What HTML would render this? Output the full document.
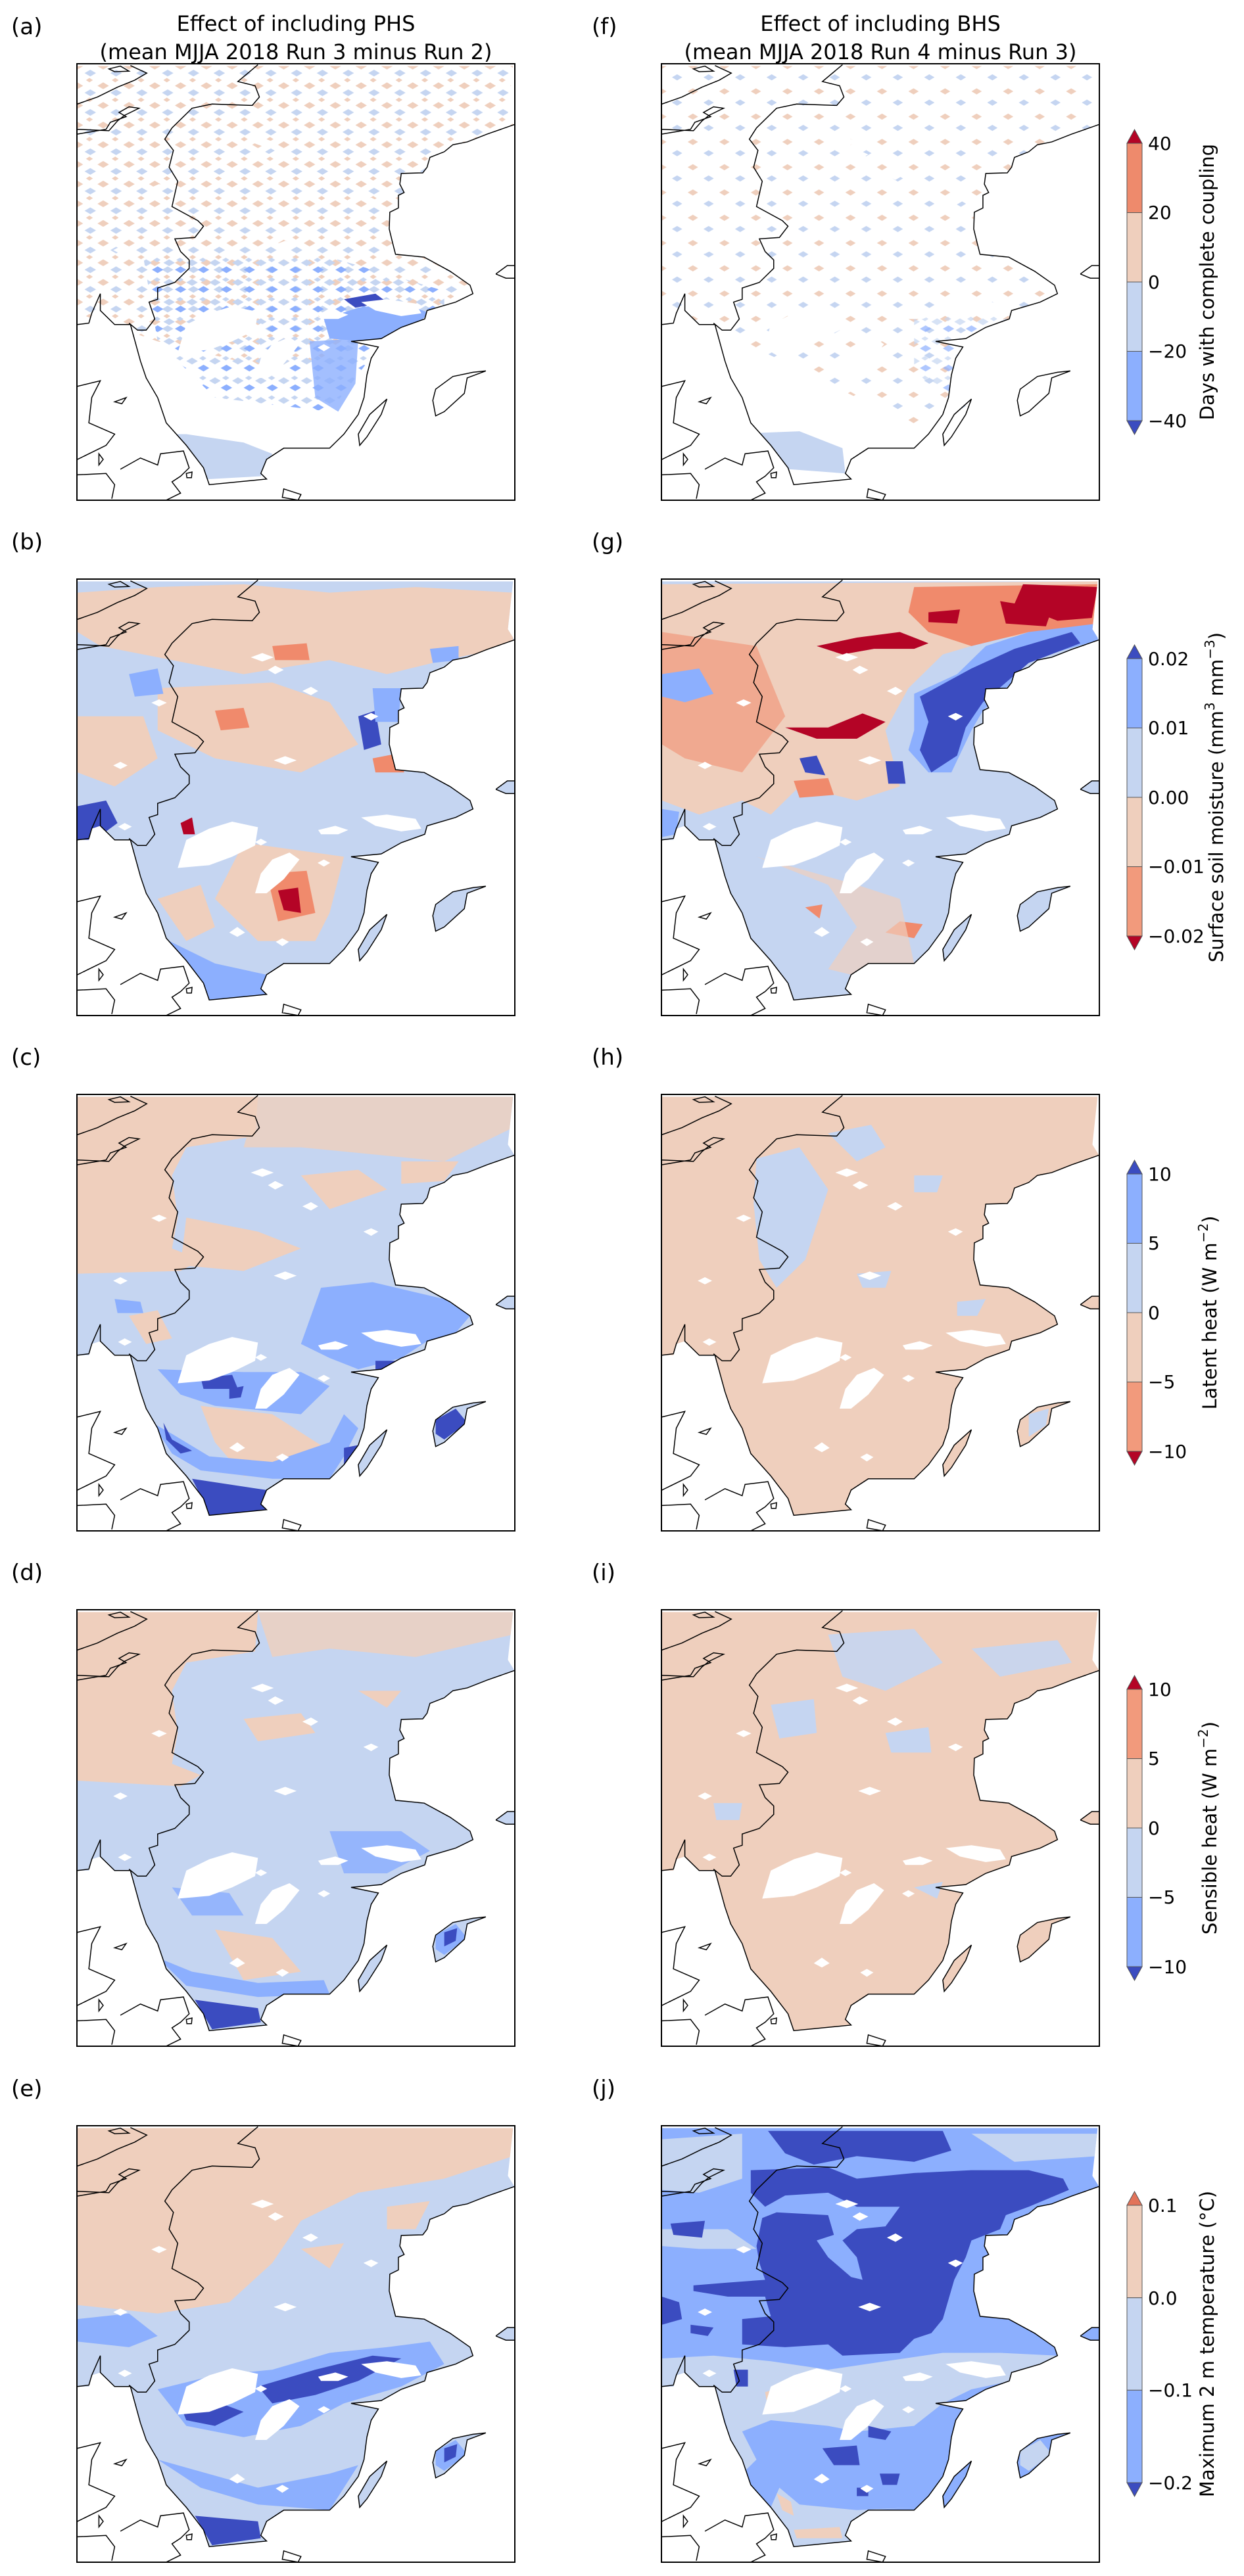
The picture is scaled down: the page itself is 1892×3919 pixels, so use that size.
<!DOCTYPE html>
<html><head><meta charset="utf-8"><style>
html,body{margin:0;padding:0;background:#fff}
svg{display:block}
text{font-family:"DejaVu Sans","Liberation Sans",sans-serif;fill:#000}
</style></head><body>
<svg width="1892" height="3919" viewBox="0 0 1892 3919" xmlns="http://www.w3.org/2000/svg">
<defs>
<clipPath id="land" clipPathUnits="userSpaceOnUse">
<path d="M20,20 L1540,20 L1522,190 L1545,228 L1450,262 L1380,290 L1330,300 L1300,325 L1250,345 L1240,380 L1225,400 L1150,402 L1145,440 L1160,470 L1140,480 L1140,525 L1110,540 L1108,600 L1120,650 L1130,690 L1230,700 L1320,750 L1390,800 L1400,830 L1340,860 L1240,890 L1232,920 L1150,950 L1080,990 L975,1000 L1070,1020 L1045,1060 L1030,1120 L1020,1200 L1000,1260 L950,1330 L900,1380 L740,1380 L680,1420 L660,1470 L680,1490 L480,1510 L460,1450 L400,1370 L330,1290 L300,1200 L260,1130 L240,1070 L205,940 L150,940 L100,890 L70,900 L60,940 L20,940 Z M1270,1170 L1330,1125 L1400,1110 L1445,1105 L1380,1130 L1370,1185 L1300,1250 L1270,1265 L1260,1210 Z M1005,1370 L1000,1330 L1040,1260 L1100,1205 L1080,1260 L1030,1340 Z M1480,760 L1500,745 L1520,730 L1545,730 L1545,775 L1515,775 Z"/>
</clipPath>
<g id="lakes" fill="#fff">
<path d="M370,1040 L400,940 L480,900 L560,875 L650,895 L640,960 L560,1000 L480,1030 Z"/>
<path d="M640,1130 L660,1060 L700,1010 L760,985 L795,1010 L740,1080 L680,1130 Z"/>
<path d="M1010,860 L1100,850 L1200,865 L1220,900 L1150,910 L1060,890 Z"/>
<path d="M860,905 L920,890 L965,905 L930,920 L870,920 Z"/>
<path d="M625,290 L665,275 L705,290 L665,305 Z M685,335 L710,320 L740,335 L710,350 Z M805,410 L835,395 L860,410 L835,425 Z M1018,500 L1045,488 L1070,500 L1045,515 Z M278,452 L305,440 L332,452 L305,465 Z M705,657 L745,642 L785,657 L745,672 Z M145,675 L170,662 L195,675 L170,688 Z M162,893 L185,880 L210,893 L185,906 Z M550,1270 L578,1250 L605,1270 L578,1285 Z M712,1303 L735,1290 L758,1303 L735,1318 Z M858,1022 L880,1010 L902,1022 L880,1035 Z M640,948 L660,936 L682,948 L660,960 Z"/>
</g>
<g id="coast" fill="none" stroke="#000" stroke-width="1.5" vector-effect="non-scaling-stroke">
<path vector-effect="non-scaling-stroke" d="M1545,228 L1450,262 L1380,290 L1330,300 L1300,325 L1250,345 L1240,380 L1225,400 L1150,402 L1145,440 L1160,470 L1140,480 L1140,525 L1110,540 L1108,600 L1120,650 L1130,690 L1230,700 L1320,750 L1390,800 L1400,830 L1340,860 L1240,890 L1232,920 L1150,950 L1080,990 L975,1000 L1070,1020 L1045,1060 L1030,1120 L1020,1200 L1000,1260 L950,1330 L900,1380 L740,1380 L680,1420 L660,1470 L680,1490 L480,1510 L460,1450 L400,1370 L330,1290 L300,1200 L260,1130 L240,1070 L205,940 L150,940 L100,890 L100,830 L70,900 L60,935 L20,940"/>
<path vector-effect="non-scaling-stroke" d="M1270,1170 L1330,1125 L1400,1110 L1445,1105 L1380,1130 L1370,1185 L1300,1250 L1270,1265 L1260,1210 Z M1005,1370 L1000,1330 L1040,1260 L1100,1205 L1080,1260 L1030,1340 Z M1480,760 L1500,745 L1520,730 L1545,730 M1545,775 L1515,775 L1480,760"/>
<path vector-effect="non-scaling-stroke" d="M20,155 L90,130 L160,95 L220,70 L262,45 L230,30 L205,18 M130,30 L170,20 L200,38 L150,40 Z M20,262 L120,245 L135,220 L190,200 L165,185 L200,165 L235,170 L185,195 L160,215 L130,250 L20,245"/>
<path vector-effect="non-scaling-stroke" d="M650,15 L580,75 L640,90 L655,130 L630,160 L490,155 L420,170 L350,240 L325,280 L355,320 L340,380 L370,430 L350,520 L440,570 L460,590 L430,630 L360,635 L380,680 L410,710 L410,740 L360,790 L300,810 L300,850 L270,860 L290,920 L260,960 L230,960 L200,935"/>
<path vector-effect="non-scaling-stroke" d="M20,1160 L100,1140 L70,1200 L60,1290 L150,1330 L120,1370 L40,1410 L20,1420 M20,1475 L120,1470 L150,1510 L140,1560 M170,1455 L240,1415 L300,1440 L310,1400 L390,1390 L410,1450 L380,1480 L350,1500 L380,1540 L330,1565 M150,1215 L190,1200 L175,1222 Z M740,1525 L800,1545 L790,1565 L735,1555 Z M95,1400 L110,1420 L95,1440 Z M400,1470 L420,1465 L418,1485 L402,1485 Z"/>
</g>
<pattern id="spkA" width="90" height="70" patternUnits="userSpaceOnUse">
<path d="M0,20 L20,8 L40,20 L20,32 Z" fill="#efcfbd"/><path d="M45,45 L65,33 L85,45 L65,57 Z" fill="#c5d5f1"/><path d="M50,0 L62,-8 L74,0 L62,8 Z M50,70 L62,62 L74,70 L62,78Z" fill="#efcfbd"/>
</pattern>
<pattern id="spkB" width="80" height="70" patternUnits="userSpaceOnUse">
<path d="M0,20 L20,8 L40,20 L20,32 Z" fill="#c5d5f1"/><path d="M40,45 L60,33 L80,45 L60,57 Z" fill="#8caffe"/><path d="M45,10 L58,2 L70,10 L58,18 Z" fill="#c5d5f1"/>
</pattern>
<pattern id="spkF" width="110" height="90" patternUnits="userSpaceOnUse">
<path d="M0,20 L18,9 L36,20 L18,31 Z" fill="#efcfbd"/><path d="M55,60 L73,49 L91,60 L73,71 Z" fill="#c5d5f1"/>
</pattern>
</defs>

<!-- Titles -->
<text x="17" y="52" font-size="34">(a)</text>
<text x="450" y="47" font-size="32" text-anchor="middle">Effect of including PHS</text>
<text x="450" y="90" font-size="32" text-anchor="middle">(mean MJJA 2018 Run 3 minus Run 2)</text>
<text x="900" y="52" font-size="34">(f)</text>
<text x="1339" y="47" font-size="32" text-anchor="middle">Effect of including BHS</text>
<text x="1339" y="90" font-size="32" text-anchor="middle">(mean MJJA 2018 Run 4 minus Run 3)</text>
<text x="17" y="836" font-size="34">(b)</text><text x="900" y="836" font-size="34">(g)</text>
<text x="17" y="1620" font-size="34">(c)</text><text x="900" y="1620" font-size="34">(h)</text>
<text x="17" y="2404" font-size="34">(d)</text><text x="900" y="2404" font-size="34">(i)</text>
<text x="17" y="3189" font-size="34">(e)</text><text x="900" y="3189" font-size="34">(j)</text>

<!-- Panel a -->
<g transform="translate(117,97)"><g transform="translate(-8,-5) scale(0.4359,0.4274)">
<g clip-path="url(#land)">
<path d="M20,20 L1540,20 L1540,700 L1100,1000 L700,1100 L300,1000 L20,900 Z" fill="url(#spkA)"/>
<path d="M250,700 L900,700 L1300,820 L1300,950 L1050,1050 L900,1250 L500,1200 L300,1000 Z" fill="url(#spkB)"/>
<path d="M880,920 L1000,880 L1150,860 L1250,900 L1150,980 L1020,1000 L900,990 Z" fill="#8caffe"/>
<path d="M950,850 L1060,830 L1100,860 L990,880 Z" fill="#3b4cc0"/>
<path d="M830,1000 L1000,990 L990,1150 L930,1250 L850,1200 Z" fill="#8caffe" opacity="0.8"/>
<path d="M240,1330 L400,1330 L600,1360 L700,1400 L660,1480 L300,1500 Z" fill="#c5d5f1"/>
<path d="M290,1380 L400,1380 L380,1450 L300,1440 Z" fill="#8caffe"/>
<use href="#lakes"/>
</g>
<use href="#coast"/></g>
<rect x="0" y="0" width="666" height="664" fill="none" stroke="#000" stroke-width="2"/></g>

<!-- Panel f -->
<g transform="translate(1006,97)"><g transform="translate(-8,-5) scale(0.4359,0.4274)">
<g clip-path="url(#land)">
<path d="M20,20 L1540,20 L1540,900 L1300,1000 L1250,1200 L900,1300 L300,1000 L20,900 Z" fill="url(#spkF)"/>
<path d="M900,900 L1250,900 L1200,1150 L1000,1200 L900,1100 Z" fill="url(#spkB)" opacity="0.7"/>
<path d="M250,1330 L500,1320 L650,1380 L660,1470 L400,1450 Z" fill="#c5d5f1"/>
<use href="#lakes"/>
</g>
<use href="#coast"/></g>
<rect x="0" y="0" width="666" height="664" fill="none" stroke="#000" stroke-width="2"/></g>

<!-- Panel b -->
<g transform="translate(117,881)"><g transform="translate(-8,-5) scale(0.4359,0.4274)">
<g clip-path="url(#land)">
<rect x="0" y="0" width="1560" height="1560" fill="#c5d5f1"/>
<path d="M20,60 L300,40 L600,30 L900,60 L1200,40 L1540,60 L1540,250 L1300,300 L1100,350 L900,300 L600,350 L350,300 L100,250 L20,200 Z" fill="#efcfbd"/>
<path d="M300,400 L700,380 L900,450 L1000,600 L800,700 L500,650 L300,550 Z" fill="#efcfbd"/>
<path d="M20,500 L250,500 L300,650 L150,750 L20,700 Z" fill="#efcfbd"/>
<path d="M600,950 L950,1000 L900,1200 L850,1300 L650,1300 L500,1150 Z" fill="#efcfbd"/>
<path d="M300,1150 L450,1100 L500,1250 L400,1300 Z" fill="#efcfbd"/>
<path d="M680,1060 L820,1050 L850,1200 L720,1230 Z" fill="#f08a6c"/>
<path d="M720,1120 L790,1110 L800,1200 L740,1190 Z" fill="#b40426"/>
<path d="M500,480 L600,470 L620,540 L520,550 Z M700,250 L820,240 L830,300 L710,300 Z M1050,650 L1150,630 L1160,700 L1060,700 Z" fill="#f08a6c"/>
<path d="M380,880 L420,860 L430,920 L390,920 Z" fill="#b40426"/>
<path d="M20,820 L120,800 L160,880 L80,940 L20,940 Z" fill="#3b4cc0"/>
<path d="M1000,500 L1060,480 L1080,600 L1020,620 Z" fill="#3b4cc0"/>
<path d="M1050,400 L1150,400 L1140,520 L1060,520 Z" fill="#8caffe"/>
<path d="M300,1280 L500,1380 L680,1420 L680,1500 L470,1510 L400,1420 Z" fill="#8caffe"/>
<path d="M200,350 L300,330 L320,420 L220,430 Z M1250,260 L1350,250 L1350,300 L1260,310 Z" fill="#8caffe"/>
<use href="#lakes"/>
</g>
<use href="#coast"/></g>
<rect x="0" y="0" width="666" height="664" fill="none" stroke="#000" stroke-width="2"/></g>

<!-- Panel g -->
<g transform="translate(1006,881)"><g transform="translate(-8,-5) scale(0.4359,0.4274)">
<g clip-path="url(#land)">
<rect x="0" y="0" width="1560" height="1560" fill="#c5d5f1"/>
<path d="M20,30 L1540,20 L1540,200 L1200,220 L1000,280 L880,400 L800,550 L850,750 L700,800 L500,750 L400,850 L300,800 L150,850 L20,800 Z" fill="#efcfbd"/>
<path d="M900,40 L1540,30 L1540,200 L1300,200 L1100,250 L950,200 L880,130 Z" fill="#f08a6c"/>
<path d="M1280,30 L1540,40 L1520,150 L1400,160 L1250,100 Z" fill="#b40426"/>
<path d="M1200,90 L1380,120 L1360,180 L1220,170 Z M950,130 L1060,120 L1050,170 L950,165 Z" fill="#b40426"/>
<path d="M560,250 L700,220 L850,200 L950,240 L900,260 L760,260 L650,280 Z" fill="#b40426"/>
<path d="M450,540 L600,540 L720,490 L800,520 L700,580 L560,580 Z" fill="#b40426"/>
<path d="M20,200 L350,250 L450,500 L300,700 L100,650 L20,600 Z" fill="#f08a6c" opacity="0.55"/>
<path d="M1540,170 L1300,200 L1150,250 L1050,350 L900,420 L900,550 L880,620 L950,700 L1030,700 L1100,550 L1140,480 L1240,380 L1300,300 L1540,230 Z" fill="#8caffe"/>
<path d="M1450,200 L1250,260 L1100,330 L920,430 L950,520 L920,620 L960,700 L1050,640 L1080,540 L1140,450 L1220,380 L1300,310 L1480,240 Z" fill="#3b4cc0"/>
<path d="M500,650 L560,640 L590,710 L520,700 Z M800,660 L860,660 L870,740 L810,740 Z" fill="#3b4cc0"/>
<path d="M20,350 L150,330 L200,420 L100,450 L20,430 Z M20,830 L80,840 L70,920 L20,930 Z" fill="#8caffe"/>
<path d="M480,730 L600,720 L620,780 L500,790 Z M850,1230 L930,1240 L900,1290 L800,1270 Z M520,1180 L580,1170 L570,1220 Z" fill="#f08a6c"/>
<path d="M350,1000 L600,1100 L700,1250 L600,1400 L800,1450 L900,1380 L850,1150 L700,1100 Z" fill="#efcfbd" opacity="0.7"/>
<use href="#lakes"/>
</g>
<use href="#coast"/></g>
<rect x="0" y="0" width="666" height="664" fill="none" stroke="#000" stroke-width="2"/></g>

<!-- Panel c -->
<g transform="translate(117,1665)"><g transform="translate(-8,-5) scale(0.4359,0.4274)">
<g clip-path="url(#land)">
<rect x="0" y="0" width="1560" height="1560" fill="#c5d5f1"/>
<path d="M20,20 L650,20 L640,160 L400,200 L350,300 L370,450 L350,560 L450,600 L380,640 L20,650 Z" fill="#efcfbd"/>
<path d="M650,20 L1540,20 L1540,130 L1300,250 L1000,220 L800,200 L600,200 Z" fill="#efcfbd" opacity="0.8"/>
<path d="M400,450 L650,500 L800,560 L600,640 L380,620 Z M800,300 L1000,280 L1100,350 L900,420 Z M1150,250 L1350,250 L1300,320 L1150,330 Z" fill="#efcfbd"/>
<path d="M450,1120 L700,1150 L900,1280 L850,1360 L600,1370 L500,1250 Z" fill="#efcfbd"/>
<path d="M200,800 L300,780 L350,880 L260,900 Z" fill="#efcfbd"/>
<path d="M870,700 L1050,680 L1300,740 L1390,800 L1340,860 L1240,890 L1150,950 L1000,990 L900,950 L800,900 Z" fill="#8caffe"/>
<path d="M300,990 L600,1000 L800,1000 L900,1050 L800,1150 L500,1120 L380,1080 Z" fill="#8caffe"/>
<path d="M280,1180 L350,1290 L450,1350 L700,1380 L900,1380 L950,1300 L1000,1200 L950,1150 L900,1250 L700,1320 L480,1300 L350,1220 Z" fill="#8caffe"/>
<path d="M420,1380 L680,1420 L660,1470 L680,1490 L480,1510 L450,1440 Z" fill="#3b4cc0"/>
<path d="M450,1020 L560,1010 L580,1060 L460,1060 Z M550,1060 L600,1050 L590,1090 L550,1095 Z M1060,960 L1140,960 L1130,990 L1060,990 Z M950,1270 L1000,1260 L990,1330 L950,1330 Z M320,1180 L350,1240 L420,1280 L380,1290 L330,1240 Z" fill="#3b4cc0"/>
<path d="M1270,1170 L1340,1130 L1380,1180 L1300,1240 L1270,1220 Z" fill="#3b4cc0"/>
<path d="M150,740 L240,750 L250,790 L160,790 Z" fill="#8caffe"/>
<use href="#lakes"/>
</g>
<use href="#coast"/></g>
<rect x="0" y="0" width="666" height="664" fill="none" stroke="#000" stroke-width="2"/></g>

<!-- Panel h -->
<g transform="translate(1006,1665)"><g transform="translate(-8,-5) scale(0.4359,0.4274)">
<g clip-path="url(#land)">
<rect x="0" y="0" width="1560" height="1560" fill="#efcfbd"/>
<path d="M350,240 L500,200 L600,350 L520,600 L420,700 L360,600 L340,400 Z" fill="#c5d5f1"/>
<path d="M600,150 L750,120 L800,200 L700,250 Z M900,300 L1000,300 L980,360 L900,360 Z M700,650 L820,640 L800,700 L720,700 Z M1050,750 L1150,740 L1120,800 L1050,800 Z" fill="#c5d5f1"/>
<path d="M1300,1150 L1370,1130 L1360,1190 L1300,1230 Z" fill="#c5d5f1"/>
<use href="#lakes"/>
</g>
<use href="#coast"/></g>
<rect x="0" y="0" width="666" height="664" fill="none" stroke="#000" stroke-width="2"/></g>

<!-- Panel d -->
<g transform="translate(117,2449)"><g transform="translate(-8,-5) scale(0.4359,0.4274)">
<g clip-path="url(#land)">
<rect x="0" y="0" width="1560" height="1560" fill="#c5d5f1"/>
<path d="M20,20 L650,20 L640,160 L400,200 L350,300 L370,450 L350,560 L450,600 L380,640 L20,620 Z" fill="#efcfbd"/>
<path d="M650,20 L1540,20 L1540,100 L1200,180 L900,150 L700,180 Z" fill="#efcfbd" opacity="0.8"/>
<path d="M600,400 L800,380 L850,450 L650,480 Z M1000,300 L1150,300 L1100,360 Z M500,1150 L700,1180 L800,1300 L600,1330 Z" fill="#efcfbd"/>
<path d="M900,800 L1150,800 L1250,870 L1100,950 L950,950 Z M350,1000 L550,1020 L600,1100 L420,1100 Z" fill="#8caffe" opacity="0.85"/>
<path d="M300,1250 L400,1350 L650,1390 L900,1380 L880,1330 L650,1340 L420,1300 Z" fill="#8caffe"/>
<path d="M430,1400 L650,1430 L660,1480 L490,1505 Z" fill="#3b4cc0"/>
<path d="M1270,1170 L1340,1130 L1380,1180 L1300,1240 L1270,1220 Z" fill="#8caffe"/>
<path d="M1300,1160 L1345,1145 L1340,1190 L1300,1210 Z" fill="#3b4cc0"/>
<use href="#lakes"/>
</g>
<use href="#coast"/></g>
<rect x="0" y="0" width="666" height="664" fill="none" stroke="#000" stroke-width="2"/></g>

<!-- Panel i -->
<g transform="translate(1006,2449)"><g transform="translate(-8,-5) scale(0.4359,0.4274)">
<g clip-path="url(#land)">
<rect x="0" y="0" width="1560" height="1560" fill="#efcfbd"/>
<path d="M600,100 L900,80 L1000,200 L800,300 L650,250 Z M1100,150 L1400,120 L1450,200 L1200,250 Z" fill="#c5d5f1" opacity="0.9"/>
<path d="M400,350 L550,330 L560,450 L430,470 Z M800,450 L950,430 L960,520 L820,520 Z M200,700 L300,700 L290,760 L210,760 Z M900,1000 L1000,980 L980,1040 Z" fill="#c5d5f1"/>
<use href="#lakes"/>
</g>
<use href="#coast"/></g>
<rect x="0" y="0" width="666" height="664" fill="none" stroke="#000" stroke-width="2"/></g>

<!-- Panel e -->
<g transform="translate(117,3234)"><g transform="translate(-8,-5) scale(0.4359,0.4274)">
<g clip-path="url(#land)">
<rect x="0" y="0" width="1560" height="1560" fill="#c5d5f1"/>
<path d="M20,20 L1540,20 L1540,120 L1300,200 L1000,250 L800,350 L700,500 L550,640 L300,680 L20,650 Z" fill="#efcfbd"/>
<path d="M1100,300 L1250,280 L1200,380 L1100,380 Z M800,450 L950,430 L900,520 Z" fill="#efcfbd"/>
<path d="M20,700 L200,680 L300,760 L200,800 L20,780 Z" fill="#8caffe"/>
<path d="M300,950 L500,900 L700,880 L900,820 L1100,800 L1250,780 L1300,860 L1150,940 L950,1000 L800,1080 L600,1120 L400,1080 Z" fill="#8caffe"/>
<path d="M650,940 L850,880 L1050,830 L1150,840 L1000,920 L850,970 L700,1000 Z" fill="#3b4cc0"/>
<path d="M380,1010 L520,1000 L600,1030 L500,1080 L400,1060 Z" fill="#3b4cc0"/>
<path d="M300,1200 L450,1300 L650,1360 L900,1380 L950,1300 L1000,1220 L900,1250 L650,1300 Z" fill="#8caffe"/>
<path d="M430,1400 L650,1420 L660,1480 L490,1505 Z" fill="#3b4cc0"/>
<path d="M1270,1170 L1340,1130 L1380,1180 L1300,1240 L1270,1220 Z" fill="#8caffe"/>
<path d="M1300,1160 L1345,1145 L1340,1190 L1300,1210 Z" fill="#3b4cc0"/>
<use href="#lakes"/>
</g>
<use href="#coast"/></g>
<rect x="0" y="0" width="666" height="664" fill="none" stroke="#000" stroke-width="2"/></g>

<!-- Panel j -->
<g transform="translate(1006,3234)"><g transform="translate(-8,-5) scale(0.4359,0.4274)">
<g clip-path="url(#land)">
<rect x="0" y="0" width="1560" height="1560" fill="#8caffe"/>
<path d="M20,60 L300,40 L300,200 L150,250 L20,240 Z M20,380 L250,380 L350,450 L150,450 L20,440 Z M1100,40 L1540,40 L1540,120 L1250,140 Z" fill="#c5d5f1"/>
<path d="M20,840 L200,830 L400,850 L600,880 L800,850 L1000,820 L1200,820 L1400,830 L1340,880 L1240,920 L1100,950 L1000,1000 L900,1080 L700,1100 L600,1080 L400,1060 L300,1100 L350,1200 L300,1250 L260,1130 L240,1060 L205,940 L20,940 Z" fill="#c5d5f1"/>
<path d="M430,1300 L500,1360 L700,1380 L900,1370 L740,1380 L680,1420 L660,1470 L680,1490 L480,1510 L460,1450 L400,1370 Z" fill="#c5d5f1"/>
<path d="M1270,1170 L1340,1130 L1380,1180 L1300,1240 L1270,1220 Z" fill="#c5d5f1"/>
<path d="M390,30 L1000,30 L1030,100 L900,140 L700,120 L550,150 L450,110 Z" fill="#3b4cc0"/>
<path d="M330,170 L600,160 L700,200 L900,180 L1100,170 L1300,170 L1420,200 L1440,240 L1300,300 L1220,330 L1200,380 L1100,420 L1080,480 L1040,560 L1000,700 L960,750 L900,770 L850,820 L650,830 L600,790 L450,800 L300,790 L300,700 L400,690 L380,620 L250,620 L130,600 L130,580 L250,570 L380,560 L360,500 L350,440 L370,340 L420,320 L600,330 L620,400 L560,420 L600,480 L680,550 L720,560 L700,480 L650,420 L700,380 L800,370 L850,300 L700,300 L600,250 L450,260 L380,300 L330,250 Z" fill="#3b4cc0"/>
<path d="M50,360 L170,350 L160,410 L60,400 Z M20,620 L80,640 L90,700 L20,720 Z M120,720 L200,730 L180,760 L120,750 Z M270,880 L320,880 L320,940 L280,940 Z" fill="#3b4cc0"/>
<path d="M740,1080 L820,1100 L800,1130 L740,1120 Z M580,1160 L700,1150 L710,1220 L620,1220 Z M780,1250 L850,1250 L840,1290 L790,1290 Z M700,1300 L740,1300 L740,1330 L700,1330 Z" fill="#3b4cc0"/>
<path d="M380,960 L450,940 L440,1010 L390,1020 Z M420,1320 L470,1350 L480,1400 L440,1380 Z M480,1450 L640,1440 L650,1480 L490,1480 Z" fill="#efcfbd"/>
<use href="#lakes"/>
</g>
<use href="#coast"/></g>
<rect x="0" y="0" width="666" height="664" fill="none" stroke="#000" stroke-width="2"/></g>

<!-- Colorbars -->
<g stroke="#555" stroke-width="1">
<!-- row1 center 429 -->
<g transform="translate(1714,218)">
<rect x="0" y="0" width="23" height="105.5" fill="#ee8a6c"/><rect x="0" y="105.5" width="23" height="105.5" fill="#efcfbd"/><rect x="0" y="211" width="23" height="105.5" fill="#c5d5f1"/><rect x="0" y="316.5" width="23" height="105.5" fill="#8caffe"/>
<path d="M0,0 L11.5,-21 L23,0 Z" fill="#b40426"/><path d="M0,422 L11.5,443 L23,422 Z" fill="#3b4cc0"/>
<rect x="0" y="0" width="23" height="422" fill="none"/>
</g>
<g transform="translate(1714,1002)">
<rect x="0" y="0" width="23" height="105.5" fill="#8caffe"/><rect x="0" y="105.5" width="23" height="105.5" fill="#c5d5f1"/><rect x="0" y="211" width="23" height="105.5" fill="#efcfbd"/><rect x="0" y="316.5" width="23" height="105.5" fill="#f29a7c"/>
<path d="M0,0 L11.5,-21 L23,0 Z" fill="#3b4cc0"/><path d="M0,422 L11.5,443 L23,422 Z" fill="#b40426"/>
<rect x="0" y="0" width="23" height="422" fill="none"/>
</g>
<g transform="translate(1714,1786)">
<rect x="0" y="0" width="23" height="105.5" fill="#8caffe"/><rect x="0" y="105.5" width="23" height="105.5" fill="#c5d5f1"/><rect x="0" y="211" width="23" height="105.5" fill="#efcfbd"/><rect x="0" y="316.5" width="23" height="105.5" fill="#f29a7c"/>
<path d="M0,0 L11.5,-21 L23,0 Z" fill="#3b4cc0"/><path d="M0,422 L11.5,443 L23,422 Z" fill="#b40426"/>
<rect x="0" y="0" width="23" height="422" fill="none"/>
</g>
<g transform="translate(1714,2570)">
<rect x="0" y="0" width="23" height="105.5" fill="#f29a7c"/><rect x="0" y="105.5" width="23" height="105.5" fill="#efcfbd"/><rect x="0" y="211" width="23" height="105.5" fill="#c5d5f1"/><rect x="0" y="316.5" width="23" height="105.5" fill="#8caffe"/>
<path d="M0,0 L11.5,-21 L23,0 Z" fill="#b40426"/><path d="M0,422 L11.5,443 L23,422 Z" fill="#3b4cc0"/>
<rect x="0" y="0" width="23" height="422" fill="none"/>
</g>
<g transform="translate(1714,3355)">
<rect x="0" y="0" width="23" height="140.7" fill="#efcfbd"/><rect x="0" y="140.7" width="23" height="140.7" fill="#c5d5f1"/><rect x="0" y="281.3" width="23" height="140.7" fill="#8caffe"/>
<path d="M0,0 L11.5,-21 L23,0 Z" fill="#e2735a"/><path d="M0,422 L11.5,443 L23,422 Z" fill="#3b4cc0"/>
<rect x="0" y="0" width="23" height="422" fill="none"/>
</g>
</g>
<g font-size="28">
<text x="1746" y="228">40</text><text x="1746" y="333">20</text><text x="1746" y="439">0</text><text x="1746" y="544">−20</text><text x="1746" y="650">−40</text>
<text x="1746" y="1012">0.02</text><text x="1746" y="1117">0.01</text><text x="1746" y="1223">0.00</text><text x="1746" y="1328">−0.01</text><text x="1746" y="1434">−0.02</text>
<text x="1746" y="1796">10</text><text x="1746" y="1901">5</text><text x="1746" y="2007">0</text><text x="1746" y="2112">−5</text><text x="1746" y="2218">−10</text>
<text x="1746" y="2580">10</text><text x="1746" y="2685">5</text><text x="1746" y="2791">0</text><text x="1746" y="2896">−5</text><text x="1746" y="3002">−10</text>
<text x="1746" y="3365">0.1</text><text x="1746" y="3506">0.0</text><text x="1746" y="3646">−0.1</text><text x="1746" y="3787">−0.2</text>
</g>
<g font-size="29" text-anchor="middle">
<text transform="translate(1836,429) rotate(-90)" dominant-baseline="central">Days with complete coupling</text>
<text transform="translate(1850,1213) rotate(-90)" dominant-baseline="central">Surface soil moisture (mm<tspan dy="-10" font-size="20">3</tspan><tspan dy="10"> mm</tspan><tspan dy="-10" font-size="20">−3</tspan><tspan dy="10">)</tspan></text>
<text transform="translate(1840,1997) rotate(-90)" dominant-baseline="central">Latent heat (W m<tspan dy="-10" font-size="20">−2</tspan><tspan dy="10">)</tspan></text>
<text transform="translate(1840,2781) rotate(-90)" dominant-baseline="central">Sensible heat (W m<tspan dy="-10" font-size="20">−2</tspan><tspan dy="10">)</tspan></text>
<text transform="translate(1836,3566) rotate(-90)" dominant-baseline="central">Maximum 2 m temperature (°C)</text>
</g>
</svg>
</body></html>
